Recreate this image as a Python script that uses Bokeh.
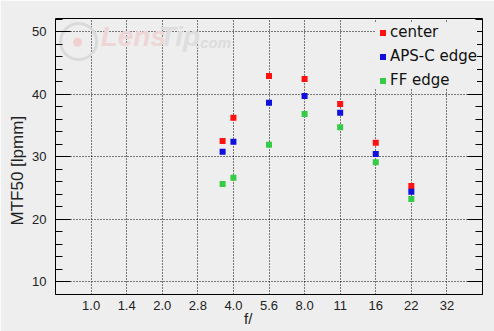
import math
from bokeh.plotting import figure
from bokeh.models import FixedTicker, LinearAxis, Legend, LegendItem, Range1d, Label
from bokeh.embed import file_html
from bokeh.resources import INLINE

# ---- data ----
stop_labels = ["1.0", "1.4", "2.0", "2.8", "4.0", "5.6", "8.0", "11", "16", "22", "32"]
apertures = [3.6, 4.0, 5.6, 8.0, 11, 16, 22]
center = [32.5, 36.2, 42.9, 42.4, 38.4, 32.2, 25.3]
aps_c_edge = [30.75, 32.35, 38.6, 39.7, 37.0, 30.4, 24.35]
ff_edge = [25.6, 26.6, 31.9, 36.8, 34.7, 29.1, 23.2]
y_major = [10, 20, 30, 40, 50]
y_minor = [8, 12, 14, 16, 18, 22, 24, 26, 28, 32, 34, 36, 38, 42, 44, 46, 48, 52]

nominal = {float(s): i for i, s in enumerate(stop_labels)}

def stop_pos(f):
    # position in full stops from f/1.0; nominal f-numbers sit on their grid line
    if float(f) in nominal:
        return nominal[float(f)]
    return 2 * math.log2(f)

xs = [stop_pos(f) for f in apertures]

BG = "#eeeeee"
NB = "\u00a0"
p = figure(width=494, height=331, output_backend="svg", toolbar_location=None,
           x_range=Range1d(-1, 11), y_range=Range1d(7.92, 52.08),
           min_border_left=55, min_border_right=12, min_border_top=18, min_border_bottom=37,
           background_fill_color=BG, border_fill_color=BG)
p.outline_line_color = "black"
p.outline_line_width = 1

# watermark
p.scatter([-0.35], [48.4], marker="circle", size=36, fill_color=None,
          line_color="#dadada", line_width=3)
p.scatter([-0.38], [48.3], marker="circle", size=9, fill_color="#f0d0d0",
          line_color=None)
p.add_layout(Label(x=0.27, y=46.7, text="Lens", text_font="Liberation Sans",
                   text_font_style="bold italic", text_font_size="28px",
                   text_color="#efd6d6"))
p.add_layout(Label(x=1.9, y=46.7, text="Tip", text_font="Liberation Sans",
                   text_font_style="bold italic", text_font_size="28px",
                   text_color="#dedede"))
p.add_layout(Label(x=2.95, y=46.9, text=".com", text_font="Liberation Sans",
                   text_font_style="bold italic", text_font_size="15px",
                   text_color="#dcdcdc"))

# axes
xa = p.xaxis[0]
xa.ticker = FixedTicker(ticks=list(range(len(stop_labels))))
xa.major_label_overrides = {i: s for i, s in enumerate(stop_labels)}
xa.major_tick_in = 0
xa.major_tick_out = 0
xa.minor_tick_in = 0
xa.minor_tick_out = 0
xa.axis_line_color = None
xa.major_label_standoff = 6
xa.major_label_text_font = "Liberation Sans"
xa.major_label_text_font_size = "13px"
xa.major_label_text_color = "#222222"
xa.axis_label = "f/" + NB * 10
xa.axis_label_standoff = -3
xa.axis_label_text_font = "Liberation Sans"
xa.axis_label_text_font_size = "15px"
xa.axis_label_text_font_style = "normal"
xa.axis_label_text_color = "#222222"

ya = p.yaxis[0]
ya.ticker = FixedTicker(ticks=y_major, minor_ticks=y_minor)
ya.major_tick_in = 15
ya.major_tick_out = 0
ya.minor_tick_in = 7
ya.minor_tick_out = 0
ya.major_tick_line_color = "black"
ya.minor_tick_line_color = "black"
ya.axis_line_color = None
ya.major_label_standoff = 9
ya.major_label_text_font = "Liberation Sans"
ya.major_label_text_font_size = "13px"
ya.major_label_text_color = "#222222"
ya.axis_label = "MTF50 [lpmm]" + NB * 6
ya.axis_label_standoff = 2
ya.axis_label_text_font = "Liberation Sans"
ya.axis_label_text_font_size = "17px"
ya.axis_label_text_font_style = "normal"
ya.axis_label_text_color = "#222222"

ra = LinearAxis(ticker=FixedTicker(ticks=y_major, minor_ticks=y_minor))
ra.major_tick_in = 15
ra.major_tick_out = 0
ra.minor_tick_in = 7
ra.minor_tick_out = 0
ra.axis_line_color = None
ra.major_label_text_alpha = 0
ra.major_label_text_font_size = "1px"
ra.major_label_standoff = 0
p.add_layout(ra, "right")

# grid
p.xgrid.ticker = FixedTicker(ticks=list(range(len(stop_labels))))
p.ygrid.ticker = FixedTicker(ticks=y_major)
for g in (p.xgrid[0], p.ygrid[0]):
    g.grid_line_color = "black"
    g.grid_line_dash = "1 2"
    g.grid_line_width = 1

# data
r1 = p.scatter(xs, center, marker="square", size=6, fill_color="#ff1111", line_color=None)
r2 = p.scatter(xs, aps_c_edge, marker="square", size=6, fill_color="#1111dd", line_color=None)
r3 = p.scatter(xs, ff_edge, marker="square", size=6, fill_color="#33cc44", line_color=None)

legend = Legend(items=[LegendItem(label="center", renderers=[r1]),
                       LegendItem(label="APS-C edge", renderers=[r2]),
                       LegendItem(label="FF edge", renderers=[r3])],
                location="top_right")
legend.border_line_color = None
legend.background_fill_color = BG
legend.background_fill_alpha = 1
legend.label_text_font = "DejaVu Sans"
legend.label_text_font_size = "15px"
legend.label_text_color = "#111111"
legend.glyph_width = 15
legend.glyph_height = 15
legend.label_standoff = -2
legend.label_height = 16
legend.spacing = 6
legend.padding = 2
legend.margin = 5
p.add_layout(legend, "center")

open("out.html", "w").write(file_html(p, INLINE))
